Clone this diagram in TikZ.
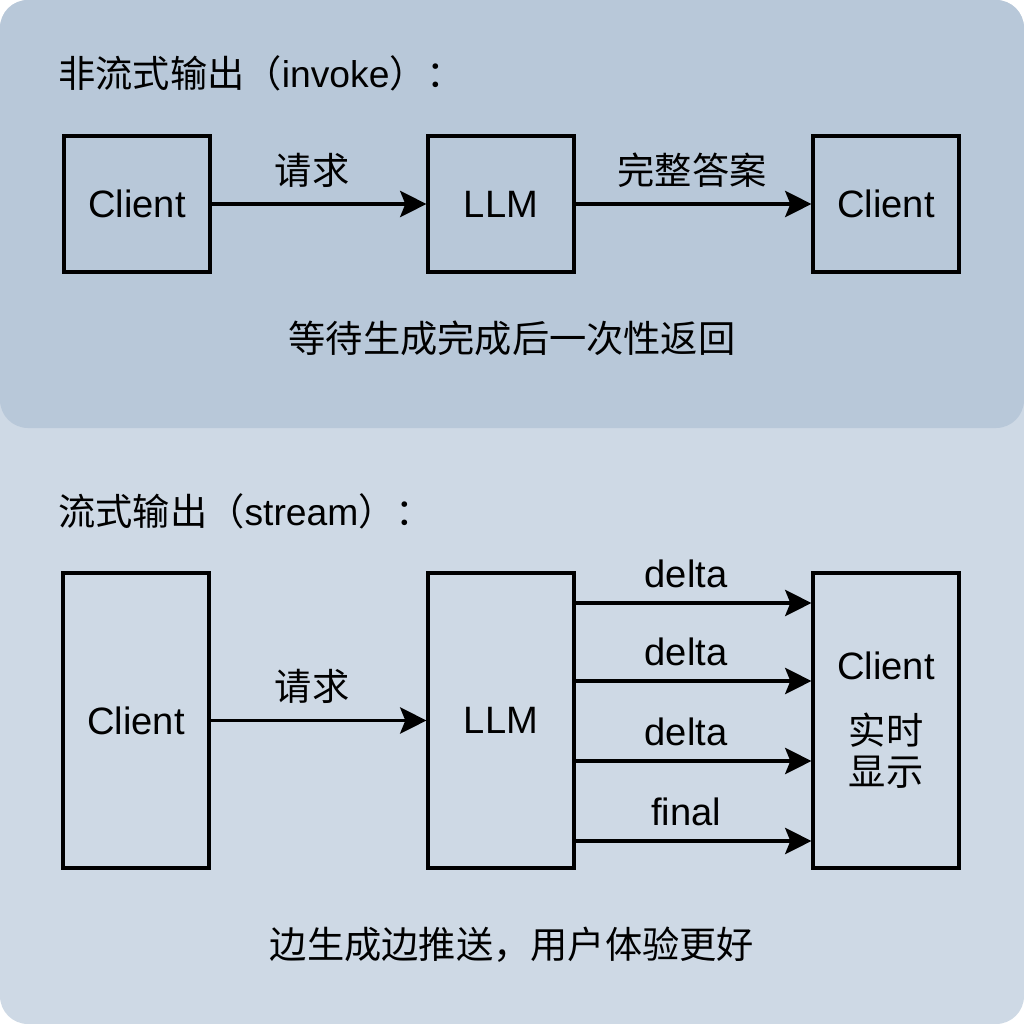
\documentclass[tikz,border=0pt]{standalone}
\usepackage{fontspec}
\setmainfont{Liberation Sans}
\newfontfamily\cjk{Noto Sans CJK SC}
\usetikzlibrary{arrows.meta}
\definecolor{topbg}{HTML}{B8C8D9}
\definecolor{botbg}{HTML}{CED9E5}
\tikzset{
  box/.style={draw=black, line width=1.8pt, minimum width={146*0.02cm}, inner sep=0pt},
  arr/.style={line width=1.8pt, -{Stealth[length=15pt,width=15pt,inset=3pt]}},
  lbl/.style={font=\fontsize{21.7}{26}\selectfont, inner sep=0pt},
  zh/.style={font=\cjk\fontsize{21.2}{26}\selectfont, inner sep=0pt},
}
\begin{document}
\begin{tikzpicture}[x=0.02cm,y=-0.02cm]
\useasboundingbox (0,0) rectangle (1024,1024);
\fill[white] (0,0) rectangle (1024,1024);
\fill[botbg, rounded corners=28*0.02cm] (0,0) rectangle (1024,1024);
\fill[topbg, rounded corners=28*0.02cm] (0,0) rectangle (1024,428);

% top panel
\node[zh, anchor=west] (t1) at (58,73) {非流式输出（\fontspec{Liberation Sans}invoke\cjk）：};
\node[box, minimum height={136*0.02cm}, lbl] (c1) at (137,204) {Client};
\node[box, minimum height={136*0.02cm}, lbl] (l1) at (501,204) {LLM};
\node[box, minimum height={136*0.02cm}, lbl] (c2) at (886,204) {Client};
\draw[arr] (c1) -- (l1);
\draw[arr] (l1) -- (c2);
\node[zh] (q1) at (312,170) {请求};
\node[zh] (a1) at (692,170) {完整答案};
\node[zh] (n1) at (512,338) {等待生成完成后一次性返回};

% bottom panel
\node[zh, anchor=west] (t2) at (58,511) {流式输出（\fontspec{Liberation Sans}stream\cjk）：};
\node[box, minimum height={295*0.02cm}, lbl] (c3) at (136,720.5) {Client};
\node[box, minimum height={295*0.02cm}, lbl] (l2) at (501,720.5) {LLM};
\node[box, minimum height={295*0.02cm}] (c4) at (886,720.5) {};
\node[lbl] (c4t) at (886,666) {Client};
\node[zh] (c4z1) at (886,730) {实时};
\node[zh] (c4z2) at (886,772) {显示};
\draw[arr] (c3) -- (l2);
\node[zh] (q2) at (312,686) {请求};
\foreach \yy/\tt [count=\i] in {603/delta,681/delta,761/delta,841/final}{
  \coordinate (s\i) at (l2.east |- 0,\yy);
  \coordinate (e\i) at (c4.west |- 0,\yy);
  \draw[arr] (s\i) -- (e\i);
  \node[lbl] (d\i) at (686,\yy-29) {\tt};
}
\node[zh] (n2) at (512,945) {边生成边推送，用户体验更好};
\end{tikzpicture}
\end{document}
